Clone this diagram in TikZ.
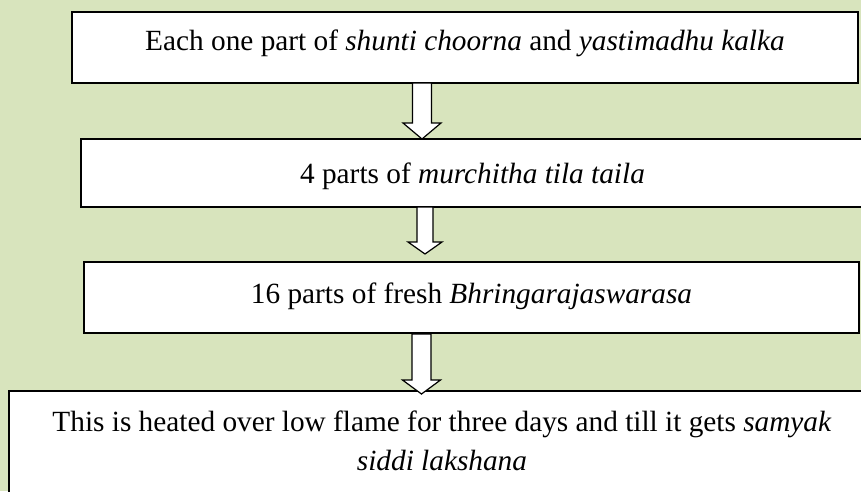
\documentclass[tikz,border=0pt]{standalone}
\usepackage{fontspec}
\setmainfont{Liberation Serif}
\usetikzlibrary{calc}
\definecolor{panelgreen}{RGB}{216,228,189}
\tikzset{
  stepbox/.style={draw=black, line width=1.3pt, fill=white, rectangle,
    inner sep=0pt, outer sep=0pt, anchor=north west},
  steptext/.style={inner sep=0pt, anchor=base, align=center,
    font=\fontsize{29.3}{39}\selectfont},
  blockarr/.style={draw=black, line width=1.2pt, fill=white, line join=miter}
}
% hollow block arrow: #1 start, #2 tip, #3 shaft half-width, #4 head half-width, #5 head length
\newcommand{\blockarrow}[5]{%
  \draw[blockarr] ($(#1)+(-#3,0)$) -- ($(#2)+(-#3,-#5)$) -- ($(#2)+(-#4,-#5)$)
    -- (#2) -- ($(#2)+(#4,-#5)$) -- ($(#2)+(#3,-#5)$) -- ($(#1)+(#3,0)$) -- cycle;}
\begin{document}
\begin{tikzpicture}[x=1pt,y=-1pt]
  \useasboundingbox (0,0) rectangle (861,491);
  \clip (0,0) rectangle (861,491);
  \fill[panelgreen] (0,0) rectangle (861,491);

  % process steps
  \node[stepbox, minimum width=786pt, minimum height=71pt] (b1) at (72,12) {};
  \node[stepbox, minimum width=783pt, minimum height=68pt] (b2) at (81,139) {};
  \node[stepbox, minimum width=775pt, minimum height=71pt] (b3) at (84,262) {};
  \node[stepbox, minimum width=867pt, minimum height=129pt] (b4) at (9,391) {};

  % arrows between the steps
  \coordinate (a1s) at ($(b1.south)+(-43,0)$);
  \coordinate (a1e) at (a1s |- b2.north);
  \coordinate (a2s) at ($(b2.south)+(-47.5,0)$);
  \coordinate (a2e) at ($(a2s |- b3.north)+(0,-8)$);
  \coordinate (a3s) at ($(b3.south)+(-50,1)$);
  \coordinate (a3e) at ($(a3s |- b4.north)+(0,3)$);
  \blockarrow{a1s}{a1e}{9.5}{19}{16}
  \blockarrow{a2s}{a2e}{8}{17}{12}
  \blockarrow{a3s}{a3e}{9.5}{19}{14}

  % step texts (base anchor of the two-line text is its last line)
  \node[steptext] (t1) at ($(b1.north)+(0,38)$)
    {Each one part of \textit{shunti choorna} and \textit{yastimadhu kalka}};
  \node[steptext] (t2) at ($(b2.north)+(0,44)$)
    {4 parts of \textit{murchitha tila taila}};
  \node[steptext] (t3) at ($(b3.north)+(0,41)$)
    {16 parts of fresh \textit{Bhringarajaswarasa}};
  \node[steptext] (t4) at ($(b4.north)+(-0.5,79)$)
    {This is heated over low flame for three days and till it gets \textit{samyak}\\
     \textit{siddi lakshana}};
\end{tikzpicture}
\end{document}
